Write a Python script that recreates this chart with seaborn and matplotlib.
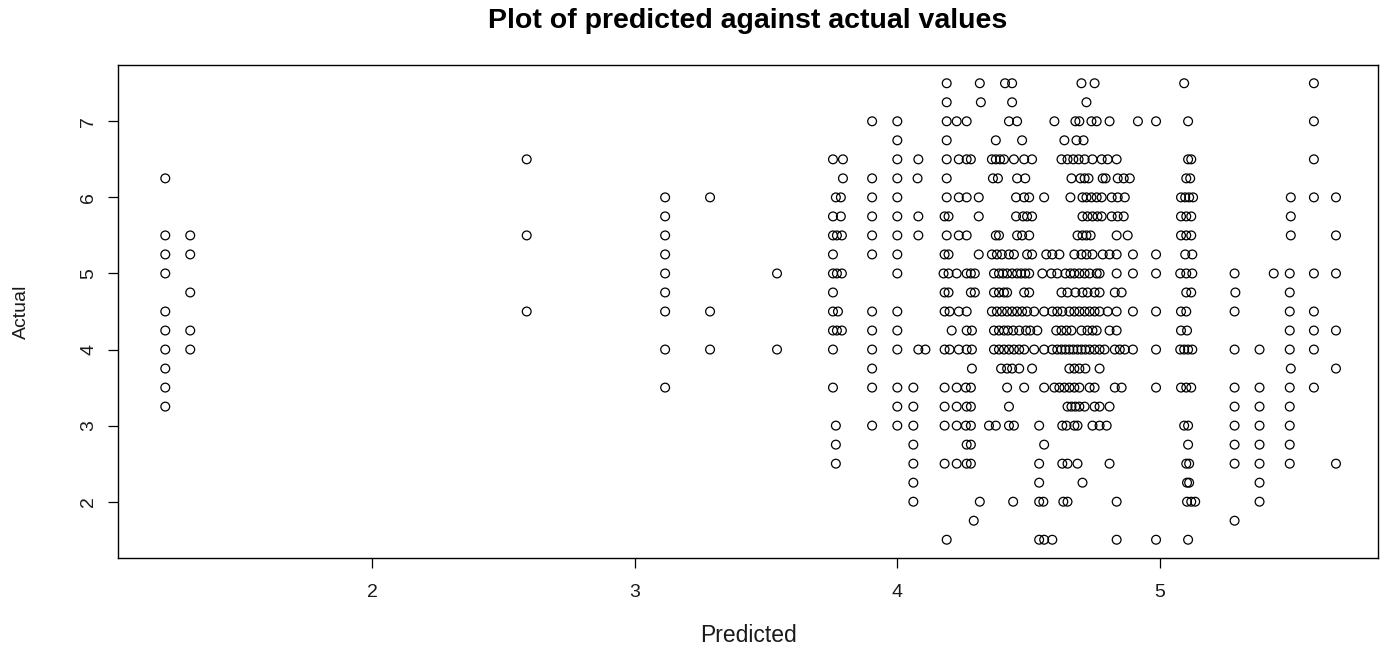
import matplotlib
matplotlib.use("Agg")
import matplotlib.pyplot as plt
import seaborn as sns
import pandas as pd

# Predicted values observed at each level of the actual score
pred_at_7_50 = [4.188, 4.314, 4.410, 4.437, 4.701, 4.751, 5.092, 5.586]
pred_at_7_25 = [4.188, 4.318, 4.437, 4.720]
pred_at_7_00 = [3.904, 4.000, 4.188, 4.226, 4.264, 4.425, 4.456, 4.598, 4.678, 4.693,
                4.739, 4.759, 4.808, 4.916, 4.985, 5.107, 5.586]
pred_at_6_75 = [4.000, 4.188, 4.375, 4.475, 4.636, 4.682, 4.709]
pred_at_6_50 = [3.755, 3.793, 4.000, 4.080, 4.188, 4.234, 4.264, 4.280, 4.360, 4.375,
                4.391, 4.406, 4.444, 4.483, 4.513, 4.625, 4.648, 4.670, 4.690, 4.713,
                4.743, 4.778, 4.801, 4.835, 5.107, 5.119, 5.586]
pred_at_6_25 = [3.793, 3.904, 4.000, 4.077, 4.188, 4.364, 4.383, 4.456, 4.487, 4.663,
                4.697, 4.713, 4.728, 4.782, 4.793, 4.839, 4.862, 4.885, 5.100, 5.115]
pred_at_6_00 = [3.766, 3.785, 3.904, 4.000, 4.188, 4.234, 4.264, 4.310, 4.452, 4.483,
                4.502, 4.559, 4.659, 4.705, 4.720, 4.739, 4.759, 4.778, 4.816, 4.839,
                4.866, 5.080, 5.096, 5.111, 5.126, 5.498, 5.586, 5.670]
pred_at_5_75 = [3.755, 3.785, 3.904, 4.000, 4.080, 4.180, 4.195, 4.310, 4.452, 4.479,
                4.494, 4.513, 4.705, 4.724, 4.743, 4.762, 4.778, 4.816, 4.839, 4.862,
                5.080, 5.100, 5.119, 5.498]
pred_at_5_50 = [3.755, 3.770, 3.789, 3.904, 4.000, 4.080, 4.188, 4.234, 4.264, 4.375,
                4.387, 4.456, 4.475, 4.502, 4.686, 4.705, 4.720, 4.736, 4.835, 4.877,
                5.080, 5.100, 5.119, 5.498, 5.670]
pred_at_5_25 = [3.755, 3.904, 4.000, 4.180, 4.195, 4.310, 4.360, 4.379, 4.398, 4.425,
                4.444, 4.494, 4.513, 4.567, 4.590, 4.617, 4.674, 4.701, 4.720, 4.743,
                4.782, 4.808, 4.835, 4.897, 4.985, 5.096, 5.123]
pred_at_5_00 = [3.755, 3.770, 3.789, 4.000, 4.176, 4.195, 4.226, 4.264, 4.280, 4.295,
                4.368, 4.387, 4.402, 4.418, 4.437, 4.456, 4.471, 4.487, 4.502, 4.552,
                4.586, 4.609, 4.640, 4.659, 4.674, 4.693, 4.713, 4.732, 4.759, 4.770,
                4.835, 4.897, 4.985, 5.077, 5.100, 5.123, 5.284, 5.433, 5.494, 5.586,
                5.670]
pred_at_4_75 = [3.755, 4.180, 4.195, 4.280, 4.295, 4.368, 4.387, 4.406, 4.418, 4.483,
                4.502, 4.625, 4.648, 4.678, 4.705, 4.724, 4.751, 4.770, 4.828, 4.854,
                5.100, 5.119, 5.287, 5.494]
pred_at_4_50 = [3.755, 3.774, 3.904, 4.000, 4.180, 4.199, 4.234, 4.264, 4.360, 4.379,
                4.398, 4.418, 4.437, 4.456, 4.475, 4.494, 4.521, 4.559, 4.590, 4.609,
                4.628, 4.655, 4.674, 4.693, 4.713, 4.732, 4.751, 4.770, 4.801, 4.835,
                4.897, 4.985, 5.080, 5.100, 5.284, 5.494, 5.586]
pred_at_4_25 = [3.755, 3.770, 3.789, 3.904, 4.000, 4.207, 4.264, 4.284, 4.368, 4.387,
                4.406, 4.421, 4.441, 4.464, 4.490, 4.506, 4.533, 4.605, 4.625, 4.644,
                4.663, 4.701, 4.724, 4.743, 4.759, 4.808, 4.835, 5.080, 5.103, 5.494,
                5.586, 5.670]
pred_at_4_00 = [3.755, 3.904, 4.000, 4.080, 4.107, 4.180, 4.199, 4.234, 4.264, 4.284,
                4.368, 4.387, 4.406, 4.425, 4.444, 4.464, 4.483, 4.521, 4.559, 4.590,
                4.609, 4.625, 4.640, 4.655, 4.670, 4.686, 4.701, 4.716, 4.732, 4.751,
                4.770, 4.789, 4.828, 4.847, 4.866, 4.897, 4.985, 5.077, 5.092, 5.107,
                5.123, 5.284, 5.379, 5.494, 5.586]
pred_at_3_75 = [3.904, 4.284, 4.395, 4.418, 4.437, 4.464, 4.513, 4.655, 4.674, 4.693,
                4.716, 4.770, 5.498, 5.670]
pred_at_3_50 = [3.755, 3.904, 4.000, 4.061, 4.180, 4.226, 4.261, 4.280, 4.418, 4.483,
                4.559, 4.598, 4.617, 4.636, 4.655, 4.674, 4.693, 4.732, 4.751, 4.828,
                4.854, 4.985, 5.080, 5.100, 5.119, 5.284, 5.379, 5.494, 5.586]
pred_at_3_25 = [4.000, 4.061, 4.180, 4.226, 4.264, 4.280, 4.425, 4.648, 4.663, 4.678,
                4.693, 4.713, 4.751, 4.770, 4.808, 5.284, 5.379, 5.494]
pred_at_3_00 = [3.766, 3.904, 4.000, 4.061, 4.180, 4.226, 4.261, 4.280, 4.349, 4.375,
                4.425, 4.444, 4.540, 4.628, 4.644, 4.674, 4.686, 4.743, 4.770, 4.797,
                5.092, 5.107, 5.284, 5.379, 5.494]
pred_at_2_75 = [3.766, 4.061, 4.264, 4.280, 4.559, 5.107, 5.284, 5.379, 5.494]
pred_at_2_50 = [3.766, 4.061, 4.180, 4.226, 4.264, 4.280, 4.540, 4.628, 4.648, 4.686,
                4.808, 5.100, 5.111, 5.284, 5.379, 5.494, 5.670]
pred_at_2_25 = [4.061, 4.540, 4.705, 5.103, 5.111, 5.379]
pred_at_2_00 = [4.061, 4.314, 4.441, 4.540, 4.556, 4.632, 4.648, 4.835, 5.103, 5.119,
                5.134, 5.379]
pred_at_1_75 = [4.291, 5.284]
pred_at_1_50 = [4.188, 4.540, 4.559, 4.590, 4.835, 4.985, 5.107]

actual_levels = [7.5, 7.25, 7.0, 6.75, 6.5, 6.25, 6.0, 5.75, 5.5, 5.25, 5.0, 4.75,
                 4.5, 4.25, 4.0, 3.75, 3.5, 3.25, 3.0, 2.75, 2.5, 2.25, 2.0, 1.75, 1.5]
pred_by_level = [pred_at_7_50, pred_at_7_25, pred_at_7_00, pred_at_6_75, pred_at_6_50,
                 pred_at_6_25, pred_at_6_00, pred_at_5_75, pred_at_5_50, pred_at_5_25,
                 pred_at_5_00, pred_at_4_75, pred_at_4_50, pred_at_4_25, pred_at_4_00,
                 pred_at_3_75, pred_at_3_50, pred_at_3_25, pred_at_3_00, pred_at_2_75,
                 pred_at_2_50, pred_at_2_25, pred_at_2_00, pred_at_1_75, pred_at_1_50]

# Low predictions: actual values observed for each predicted value
low_pred_values = [1.213, 1.308, 2.589, 3.116, 3.287, 3.542]
actual_at_1_21 = [6.25, 5.5, 5.25, 5.0, 4.5, 4.25, 4.0, 3.75, 3.5, 3.25]
actual_at_1_31 = [5.5, 5.25, 4.75, 4.25, 4.0]
actual_at_2_59 = [6.5, 5.5, 4.5]
actual_at_3_12 = [6.0, 5.75, 5.5, 5.25, 5.0, 4.75, 4.5, 4.0, 3.5]
actual_at_3_29 = [6.0, 4.5, 4.0]
actual_at_3_54 = [5.0, 4.0]
actual_by_low_pred = [actual_at_1_21, actual_at_1_31, actual_at_2_59,
                      actual_at_3_12, actual_at_3_29, actual_at_3_54]

x_ticks = [2, 3, 4, 5]
y_ticks = [2, 3, 4, 5, 6, 7]
x_range = (1.033, 5.830)
title_text = "Plot of predicted against actual values"
x_label = "Predicted"
y_label = "Actual"

rows = []
for p, ys in zip(low_pred_values, actual_by_low_pred):
    rows += [(p, y) for y in ys]
for y, ps in zip(actual_levels, pred_by_level):
    rows += [(p, y) for p in ps]
df = pd.DataFrame(rows, columns=["Predicted", "Actual"])

sns.set_theme(style="white")
plt.rcParams["font.family"] = ["Liberation Sans", "DejaVu Sans"]

fig = plt.figure(figsize=(13.87, 6.48), dpi=100)
ax = fig.add_axes([118 / 1387, 1 - 558 / 648, 1260 / 1387, 493 / 648])

sns.scatterplot(data=df, x="Predicted", y="Actual", ax=ax, marker="o", s=40,
                facecolors="none", edgecolor="black", linewidth=0.9)

# y range follows the usual 4% extension around the data
ymin, ymax = df["Actual"].min(), df["Actual"].max()
pad_y = 0.04 * (ymax - ymin)
ax.set_xlim(*x_range)
ax.set_ylim(ymin - pad_y, ymax + pad_y)

ax.set_xticks(x_ticks)
ax.set_yticks(y_ticks)
ax.set_xticklabels([str(t) for t in x_ticks], fontsize=14, color="#1a1a1a")
ax.set_yticklabels([str(t) for t in y_ticks], fontsize=14, color="#1a1a1a",
                   rotation=90, va="center")
ax.tick_params(axis="both", direction="out", length=7, width=0.9, color="black",
               bottom=True, left=True)
ax.tick_params(axis="x", pad=12)
ax.tick_params(axis="y", pad=8)

for side in ax.spines.values():
    side.set_visible(True)
    side.set_color("black")
    side.set_linewidth(1.0)

ax.set_xlabel(x_label, fontsize=16.5, color="#1a1a1a", labelpad=16)
ax.set_ylabel(y_label, fontsize=14, color="#1a1a1a", labelpad=36)
fig.text((118 + 1378) / 2 / 1387, 1 - 21 / 648, title_text, ha="center", va="center",
         fontsize=20.5, fontweight="bold", color="black")

fig.savefig("out.png", dpi=100, facecolor="white")
